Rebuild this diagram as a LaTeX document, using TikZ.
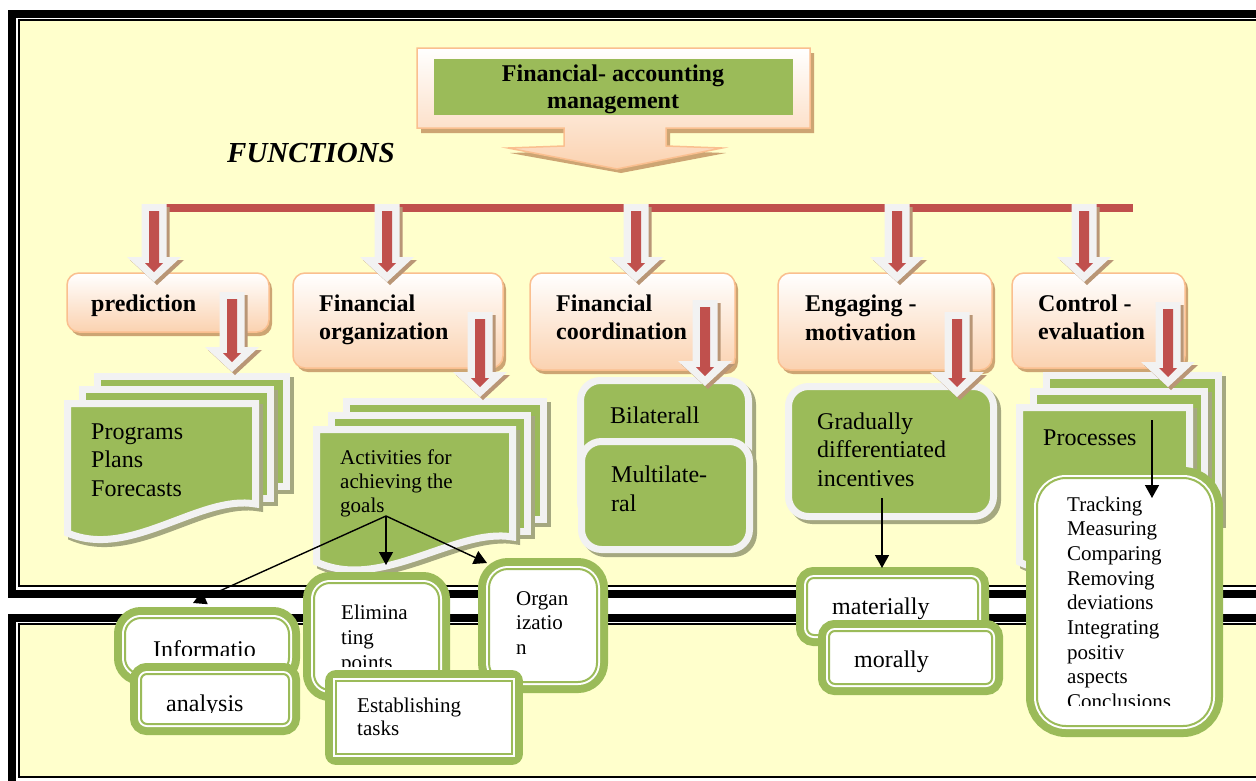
\documentclass[tikz,border=0pt]{standalone}
\usepackage{fontspec}
\setmainfont{Liberation Serif}
\usetikzlibrary{shadows,arrows.meta}
\definecolor{bgyel}{RGB}{255,255,204}
\definecolor{greenc}{RGB}{155,187,89}
\definecolor{gwhite}{RGB}{242,242,242}
\definecolor{peach}{RGB}{251,210,176}
\definecolor{peachline}{RGB}{250,191,143}
\definecolor{tanshadow}{RGB}{205,165,115}
\definecolor{redc}{RGB}{192,80,77}
\definecolor{oliveshadow}{RGB}{165,168,128}
\definecolor{arrshadow}{RGB}{185,150,118}
\tikzset{
 peachbox/.style={draw=peachline, line width=1.5pt, rounded corners=12pt, top color=white, bottom color=peach, inner sep=0pt,
   drop shadow={shadow xshift=3pt, shadow yshift=-4pt, fill=tanshadow, opacity=1}},
 gbox/.style={fill=greenc, draw=gwhite, line width=7pt, rounded corners=20pt, inner sep=0pt,
   drop shadow={shadow xshift=4pt, shadow yshift=-4pt, fill=oliveshadow, draw=oliveshadow, line width=7pt, opacity=1}},
 wbox/.style={fill=white, draw=greenc, line width=2pt, rounded corners=#1, inner sep=0pt,
   preaction={draw=greenc, line width=22pt}, preaction={draw=white, line width=6pt}},
 wboxsq/.style={fill=white, draw=greenc, line width=2pt, inner sep=0pt,
   preaction={draw=greenc, line width=22pt, line join=round}, preaction={draw=white, line width=6pt}},
 docshadow/.style={fill=oliveshadow, draw=oliveshadow, line width=7pt, shift={(4,4)}},
 doclayer/.style={fill=greenc, draw=gwhite, line width=7pt},
 hb/.style={font=\fontsize{24}{28.5}\selectfont\bfseries, anchor=base west, align=left, inner sep=0pt},
 tr/.style={font=\fontsize{24}{#1}\selectfont, anchor=base west, align=left, inner sep=0pt},
 ts/.style={font=\fontsize{21}{#1}\selectfont, anchor=base west, align=left, inner sep=0pt},
 blkarrow/.style={draw=black, line width=1.4pt, -{Triangle[length=13pt,width=14pt]}}
}
\newcommand{\blkarrowshape}[3]{%
\begin{scope}[shift={(#1,0)}]
\fill[arrshadow,shift={(3,3)}] (-12.5,#2) -- (12.5,#2) -- (12.5,{#3-25}) -- (27,{#3-25}) -- (0,#3) -- (-27,{#3-25}) -- (-12.5,{#3-25}) -- cycle;
\fill[gwhite] (-12.5,#2) -- (12.5,#2) -- (12.5,{#3-25}) -- (27,{#3-25}) -- (0,#3) -- (-27,{#3-25}) -- (-12.5,{#3-25}) -- cycle;
\fill[redc] (-5,{#2+7}) -- (5,{#2+7}) -- (5,{#3-19}) -- (9,{#3-19}) -- (0,{#3-10}) -- (-9,{#3-19}) -- (-5,{#3-19}) -- cycle;
\end{scope}}
\begin{document}
\begin{tikzpicture}[x=1pt,y=-1pt]
\useasboundingbox (0,0) rectangle (1256,780);
\clip (0,0) rectangle (1256,780);
\fill[white] (0,0) rectangle (1256,780);
% panels
\fill[black] (8,10) rectangle (1300,598);
\fill[white] (16,18) rectangle (1300,590);
\fill[black] (18,19) rectangle (1300,587);
\fill[bgyel] (20,21) rectangle (1300,585);
\fill[black] (8,614) rectangle (1300,800);
\fill[white] (16,622) rectangle (1300,800);
\fill[black] (18,623) rectangle (1300,778);
\fill[bgyel] (20,625) rectangle (1300,776);
% title callout
\fill[tanshadow] (421,53) -- (814,53) -- (814,133) -- (670,133) -- (670,151) -- (726,153) -- (621,173) -- (510,153) -- (568,151) -- (568,133) -- (421,133) -- cycle;
\path[draw=peachline, line width=1.5pt, top color=white, bottom color=peach] (417,48) -- (810,48) -- (810,128) -- (666,128) -- (666,146) -- (722,148) -- (617,169) -- (508,148) -- (564,146) -- (564,128) -- (417,128) -- cycle;
\node[fill=greenc, minimum width=359pt, minimum height=56pt, inner sep=0pt] (titlebox) at (613.5,87) {};
\node[font=\fontsize{24}{27}\selectfont\bfseries, align=center, anchor=base, inner sep=0pt] (ttitle) at (613,108) {Financial- accounting\\management};
\node[font=\fontsize{29}{31}\selectfont\bfseries\itshape, anchor=base west, inner sep=0pt] (tfun) at (227,162) {FUNCTIONS};
% red bar
\fill[redc] (154,204) rectangle (1133,212);
% function boxes
\node[peachbox, minimum width=202pt, minimum height=59pt] (pred) at (168,302.5) {};
\node[peachbox, minimum width=210pt, minimum height=95pt] (forg) at (398,320.5) {};
\node[peachbox, minimum width=205pt, minimum height=97pt] (fcoord) at (632.5,321.5) {};
\node[peachbox, minimum width=214pt, minimum height=97pt] (engage) at (885,321.5) {};
\node[peachbox, minimum width=173pt, minimum height=95pt] (ctrl) at (1098.5,320.5) {};
\node[hb] (tpred) at (91,311) {prediction};
\node[hb] (tforg) at (319,339.5) {Financial\\organization};
\node[hb] (tfcoord) at (556,339.5) {Financial\\coordination};
\node[hb] (tengage) at (805,340) {Engaging -\\motivation};
\node[hb] (tctrl) at (1038,339.5) {Control -\\evaluation};
% top arrows
\blkarrowshape{154}{204}{282}
\blkarrowshape{387}{204}{282}
\blkarrowshape{636}{204}{282}
\blkarrowshape{897}{204}{282}
\blkarrowshape{1084}{204}{282}
% prediction stack
\path[docshadow] (97.5,376.5) rectangle (286.5,486.5);
\path[doclayer] (97.5,376.5) rectangle (286.5,486.5);
\path[docshadow] (82.5,389.5) rectangle (270.5,498.5);
\path[doclayer] (82.5,389.5) rectangle (270.5,498.5);
\path[docshadow] (67.5,403.5) -- (255.5,403.5) -- (255.5,504) .. controls (200,494) and (130,560) .. (67.5,533) -- cycle;
\path[doclayer] (67.5,403.5) -- (255.5,403.5) -- (255.5,504) .. controls (200,494) and (130,560) .. (67.5,533) -- cycle;
\node[tr=28.5] (tprog) at (91,496) {Programs\\Plans\\Forecasts};
% organization stack
\path[docshadow] (346.5,401.5) rectangle (543.5,519.5);
\path[doclayer] (346.5,401.5) rectangle (543.5,519.5);
\path[docshadow] (331.5,415.5) rectangle (527.5,531.5);
\path[doclayer] (331.5,415.5) rectangle (527.5,531.5);
\path[docshadow] (316.5,429.5) -- (512.5,429.5) -- (512.5,537) .. controls (456,527) and (381,592) .. (316.5,562) -- cycle;
\path[doclayer] (316.5,429.5) -- (512.5,429.5) -- (512.5,537) .. controls (456,527) and (381,592) .. (316.5,562) -- cycle;
\node[ts=24] (tact) at (340,512) {Activities for\\achieving the\\goals};
% coordination boxes
\node[gbox, minimum width=168pt, minimum height=141pt] (bilat) at (664.5,451) {};
\node[tr=29] (tbilat) at (610,423) {Bilaterall};
\node[gbox, minimum width=168pt, minimum height=108pt] (multi) at (665.5,495.5) {};
\node[tr=29] (tmulti) at (611,511) {Multilate-\\ral};
% motivation box
\node[gbox, minimum width=205pt, minimum height=130pt] (grad) at (891,451.5) {};
\node[tr=28.5] (tgrad) at (817,486) {Gradually\\differentiated\\incentives};
% control stack
\path[docshadow] (1046.5,375.5) rectangle (1218.5,520);
\path[doclayer] (1046.5,375.5) rectangle (1218.5,520);
\path[docshadow] (1033.5,391.5) rectangle (1204.5,530);
\path[doclayer] (1033.5,391.5) rectangle (1204.5,530);
\path[docshadow] (1019.5,407.5) -- (1189.5,407.5) -- (1189.5,535) .. controls (1140,525) and (1076,590) .. (1019.5,562) -- cycle;
\path[doclayer] (1019.5,407.5) -- (1189.5,407.5) -- (1189.5,535) .. controls (1140,525) and (1076,590) .. (1019.5,562) -- cycle;
\node[tr=28] (tproc) at (1043,445) {Processes};
% second arrows
\blkarrowshape{232}{292}{372}
\blkarrowshape{480}{312}{397}
\blkarrowshape{705}{300}{386}
\blkarrowshape{957}{312}{397}
\blkarrowshape{1168}{302}{387}
% lower white boxes
\node[wbox=16pt, minimum width=164pt, minimum height=56pt] (info) at (207,646) {};
\begin{scope}
\clip (125,620) rectangle (289,655);
\node[tr=28] (tinfo) at (153,657) {Informatio};
\end{scope}
\node[wbox=6pt, minimum width=148pt, minimum height=50pt] (anal) at (215,699) {};
\begin{scope}
\clip (141,676) rectangle (289,712);
\node[tr=28] (tanal) at (166,711) {analysis};
\end{scope}
\node[wbox=16pt, minimum width=125pt, minimum height=107pt] (elim) at (376.5,636.5) {};
\begin{scope}
\clip (314,585) rectangle (439,666);
\node[ts=25] (telim) at (341,669) {Elimina\\ting\\points};
\end{scope}
\node[wbox=19pt, minimum width=108pt, minimum height=113pt] (organ) at (543,625.5) {};
\node[ts=24.5] (torgan) at (516,654) {Organ\\izatio\\n};
\node[wboxsq, minimum width=176pt, minimum height=73pt] (estab) at (424,717.5) {};
\node[ts=23] (testab) at (357,735) {Establishing\\tasks};
\node[wbox=7pt, minimum width=171pt, minimum height=57pt] (mat) at (892.5,606.5) {};
\node[tr=28] (tmat) at (832,614) {materially};
\node[wbox=6pt, minimum width=163pt, minimum height=53pt] (mor) at (910.5,657.5) {};
\node[tr=28] (tmor) at (854,667) {morally};
\node[wbox=29pt, minimum width=175pt, minimum height=248pt] (clist) at (1124.5,602) {};
\begin{scope}
\clip (1037,480) rectangle (1212,705);
\node[ts=24.7] (tclist) at (1067,708.6) {Tracking\\Measuring\\Comparing\\Removing\\deviations\\Integrating\\positiv\\aspects\\Conclusions};
\end{scope}
% black connectors
\coordinate (goalsfork) at (386,516);
\coordinate (infotip) at (193,603);
\coordinate (elimtip) at (386,565);
\coordinate (organtip) at (487,563);
\coordinate (gradout) at (882,498);
\coordinate (mattip) at (882,568);
\coordinate (procout) at (1152,420);
\coordinate (clisttip) at (1152,498);
\draw[blkarrow] (goalsfork) -- (infotip);
\draw[blkarrow] (goalsfork) -- (elimtip);
\draw[blkarrow] (goalsfork) -- (organtip);
\draw[blkarrow] (gradout) -- (mattip);
\draw[blkarrow] (procout) -- (clisttip);
\end{tikzpicture}
\end{document}
